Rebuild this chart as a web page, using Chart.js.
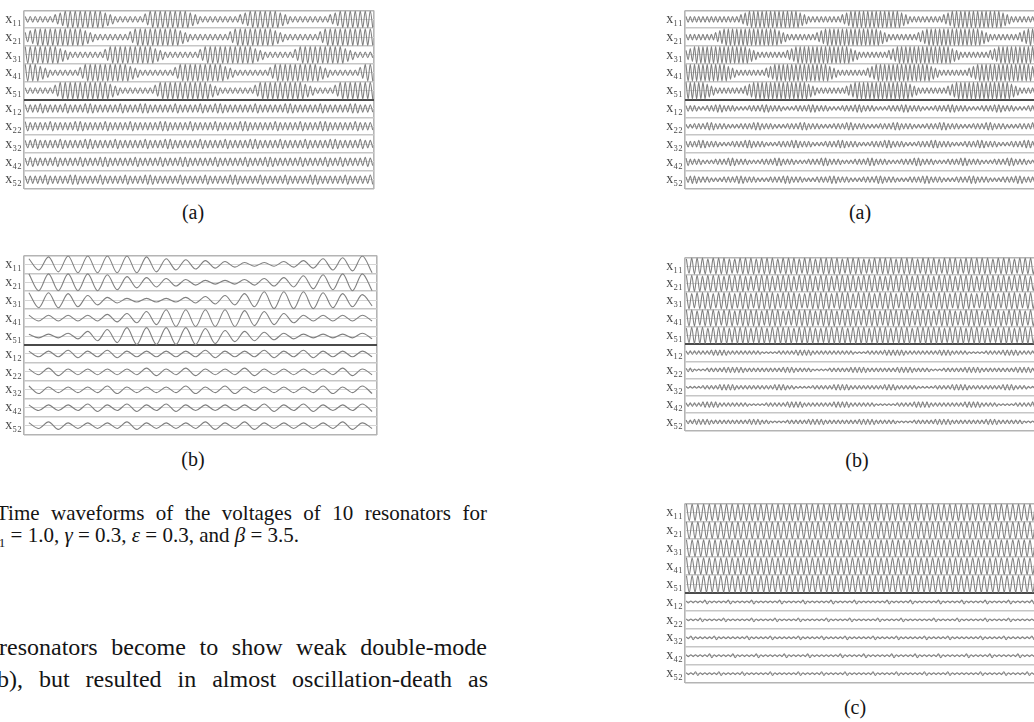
<!DOCTYPE html>
<html>
<head>
<meta charset="utf-8">
<script src="https://cdn.jsdelivr.net/npm/chart.js@4.4.1/dist/chart.umd.min.js"></script>
<style>
  html, body { margin: 0; padding: 0; background: #fff; }
  body { width: 1034px; height: 722px; position: relative; overflow: hidden;
         font-family: 'Liberation Serif', 'Times New Roman', serif; color: #141414; }
  canvas { position: absolute; }
  .tag { position: absolute; font-size: 20px; transform: translate(-50%, -50%); white-space: nowrap; }
  .ln { position: absolute; white-space: nowrap; line-height: 1; }
  .just { text-align: justify; text-align-last: justify; white-space: normal; }
  .cap { font-size: 21px; }
  .par { font-size: 24px; }
</style>
</head>
<body>
<canvas id="leftA"></canvas>
<canvas id="leftB"></canvas>
<canvas id="rightA"></canvas>
<canvas id="rightB"></canvas>
<canvas id="rightC"></canvas>

<div class="tag" style="left:193px; top:212px">(a)</div>
<div class="tag" style="left:193px; top:459px">(b)</div>
<div class="tag" style="left:860px; top:212px">(a)</div>
<div class="tag" style="left:857px; top:460px">(b)</div>
<div class="tag" style="left:855px; top:707px">(c)</div>

<div class="ln cap just" style="left:-4px; top:503px; width:491px">Time waveforms of the voltages of 10 resonators for</div>
<div class="ln cap" style="left:-16px; top:525px"><i>ω</i><sub style="font-size:13px">1</sub> = 1.0, <i>γ</i> = 0.3, <i>ε</i> = 0.3, and <i>β</i> = 3.5.</div>
<div class="ln par just" style="left:-1px; top:635px; width:488px">resonators become to show weak double-mode</div>
<div class="ln par just" style="left:-11px; top:667px; width:499px">(b), but resulted in almost oscillation-death as</div>

<script>
// row labels, top to bottom
const rowLabels = ['x₁₁', 'x₂₁', 'x₃₁', 'x₄₁', 'x₅₁', 'x₁₂', 'x₂₂', 'x₃₂', 'x₄₂', 'x₅₂'];

// peak amplitude of each cycle (0..9), one string per row
const leftA = [
  '333333 57 99999999 75 333333 6 99999999 75 33333333 57 999999 75 33333333 57 9999999',
  '5 7 9999999999 7 5 3333333 6 999999999 7 5 33333333 6 99999999 7 5 3333333 6 9999999999',
  '9999999 7 5 3333333 6 999999999 7 5 3333333 6 9999999999 7 5 333333 6 999999999 7 5 3333',
  '999 7 5 333333 6 999999999 7 5 3333333 6 999999999 7 5 3333333 6 999999999 7 5 333333 6 99',
  '333333 6 9999999999 7 5 3333333 6 9999999999 7 5 3333333 6 999999999 7 5 3333 6 9999999',
  '4445444454 4455444445 4445544444 5444454455 4444445444 4455444445 4444455444',
  '5444454444 5544445444 4544444554 4445444454 4445544444 5444454445 5444445444',
  '4454444544 4455444454 4444544455 4444454444 5444455444 4544445444 4554444544',
  '4544445444 4544455444 4454444544 4554444454 4444544455 4444454444 5445444454',
  '4444544445 5444454444 5444554444 4544445444 4554444544 4454444554 4444544445'
];

const leftB = [
  '689999865432234679',
  '999986543223457899',
  '887532223457999876',
  '333345799998753333',
  '223579999865432223',
  '334343333433434333',
  '343333434334333343',
  '433343334343333434',
  '333434343333434334',
  '343334333434333343'
];

const rightA = [
  '3333333333333 57 999999999999 75 33333333 57 999999999999 75 33333333 57 999999999999 75 3333333',
  '3333333 57 9999999999999 75 3333333 57 9999999999999 75 3333333 57 9999999999999 75 3333333 57 999',
  '57 9999999999999 75 3333333 57 9999999999999 75 3333333 57 9999999999999 75 3333333 57 9999999999',
  '9999999999 75 3333333 57 9999999999999 75 3333333 57 9999999999999 75 3333333 57 9999999999999 75',
  '99999 75 3333333 57 9999999999999 75 3333333 57 9999999999999 75 3333333 57 9999999999999 75 33333',
  '333223344333 222333443332 223334433322 233344333222 333443332223 334433322233 344333222333',
  '223334433322 233344333222 333443332223 334433322233 344333222333 443332223334 433322233344',
  '333443332223 334433322233 344333222333 443332223334 433322233344 333222333443 332223334433',
  '433322233344 333222333443 332223334433 322233344333 222333443332 223334433322 233344333222',
  '344333222333 443332223334 433322233344 333222333443 332223334433 322233344333 222333443332'
];

const rightB = [
  '899989998899 989998999899 899998999889 999899989998 999899999899 989998',
  '999899989998 899989998999 899899998999 889999899989 998999899999 899989',
  '989998999899 899998999889 999899989998 999899999899 989998899989 998999',
  '998999899899 998999889999 899989998999 899999899989 998899989998 999899',
  '899989998999 899899998999 889999899989 998999899999 899989998899 989998',
  '222222333322 222222111122 223333222222 222211122223 333322222222 333222211112 222333322222',
  '221112222333 332222222223 332222111122 222333322222 223333222211 122222333322 222222333322',
  '111122223333 222222222333 221111222223 333222222223 332222211112 222333322222 222333222111',
  '222233332222 222111122222 333322222223 333222222111 112222333322 222222333322 221111222233',
  '223333222222 222333221111 222223333222 222223333222 221111222223 333222222223 332222221111'
];

const rightC = [
  '99999999999999999999999999999999999999999999999999999999999999',
  '99999999999999999999999999999999999999999999999999999999999999',
  '99999999999999999999999999999999999999999999999999999999999999',
  '99999999999999999999999999999999999999999999999999999999999999',
  '99999999999999999999999999999999999999999999999999999999999999',
  '1111211112 1111211111 2111121111 1211112111 1112111121 1111211112 1111211112 111121',
  '1112111121 1111211112 1111211111 2111121111 1211112111 1112111121 1111211112 111112',
  '1211112111 1112111121 1111211112 1111211111 2111121111 1211112111 1112111121 111121',
  '1111121111 2111121111 1211112111 1112111121 1111211112 1111211111 2111121111 121111',
  '1121111211 1121111121 1111211112 1111211111 2111121111 1211112111 1112111121 111211'
];

const yTicks = Array.from({ length: 21 }, (_, i) => i / 2);

function toPoints(str, row) {
  const amps = str.replace(/\s/g, '').split('').map(Number);
  const n = amps.length;
  const mid = 9.5 - row;
  const pts = [];
  amps.forEach((a, j) => {
    const h = a / 9 * 0.47;
    pts.push({ x: (j + 0.25) / n, y: mid + h });
    pts.push({ x: (j + 0.75) / n, y: mid - h });
  });
  return pts;
}

function gridColor(ctx) {
  const v = ctx.tick.value;
  if (v === 5) return '#4a4a4a';
  if (v === 0 || v === 10) return '#b4b4b4';
  if (Number.isInteger(v)) return '#c6c6c6';
  return '#d4d4d4';
}

function gridWidth(ctx) {
  const v = ctx.tick.value;
  if (v === 5) return 2;
  if (Number.isInteger(v)) return 1.6;
  return 1;
}

function makePanel(id, rows, area) {
  const cv = document.getElementById(id);
  cv.width = area.r - area.l + 26;
  cv.height = area.b - area.t + 4;
  cv.style.left = (area.l - 24) + 'px';
  cv.style.top = (area.t - 2) + 'px';

  new Chart(cv, {
    type: 'line',
    data: {
      datasets: rows.map((s, i) => ({
        data: toPoints(s, i),
        borderColor: '#808080',
        borderWidth: 1.1,
        pointRadius: 0,
        cubicInterpolationMode: 'monotone',
        fill: false
      }))
    },
    options: {
      responsive: false,
      animation: false,
      events: [],
      layout: { padding: { top: 2, right: 2, bottom: 2, left: 0 } },
      plugins: { legend: { display: false }, tooltip: { enabled: false } },
      scales: {
        x: {
          type: 'linear', min: 0, max: 1,
          afterBuildTicks: s => { s.ticks = [{ value: 0 }, { value: 1 }]; },
          ticks: { display: false },
          grid: { color: '#b4b4b4', lineWidth: 1.6, drawTicks: false },
          border: { display: false }
        },
        y: {
          type: 'linear', min: 0, max: 10,
          afterBuildTicks: s => { s.ticks = yTicks.map(v => ({ value: v })); },
          afterFit: s => { s.width = 24; },
          ticks: {
            autoSkip: false,
            padding: 2,
            color: '#4a4a4a',
            font: { family: "'Liberation Serif', 'DejaVu Serif', serif", size: 14 },
            callback: v => Number.isInteger(v) ? '' : rowLabels[Math.round(9.5 - v)]
          },
          grid: { drawTicks: false, color: gridColor, lineWidth: gridWidth },
          border: { display: false }
        }
      }
    }
  });
}

makePanel('leftA', leftA, { l: 24, t: 2, r: 374, b: 197 });
makePanel('leftB', leftB, { l: 24, t: 247, r: 377, b: 443 });
makePanel('rightA', rightA, { l: 685, t: 2, r: 1040, b: 197 });
makePanel('rightB', rightB, { l: 685, t: 249, r: 1040, b: 439 });
makePanel('rightC', rightC, { l: 685, t: 495, r: 1040, b: 691 });
</script>
</body>
</html>
